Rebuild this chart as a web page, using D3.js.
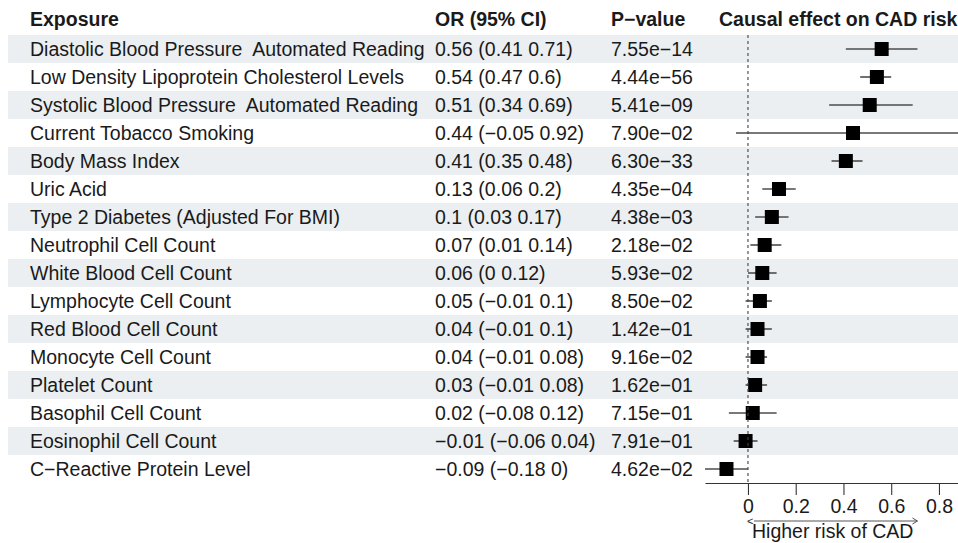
<!DOCTYPE html>
<html>
    <head>
        <script src="https://d3js.org/d3.v7.min.js"></script>
        <style>
            body{ margin:0; background:#fff; }
            text{ font-family:"Liberation Sans", Arial, Helvetica, sans-serif; fill:#1a1a1a; white-space:pre; }
        </style>
    </head>
    <body>
        <svg height="543" width="958" id="chart"></svg>
        <script>
            // data
            const exposures=[
                "Diastolic Blood Pressure  Automated Reading",
                "Low Density Lipoprotein Cholesterol Levels",
                "Systolic Blood Pressure  Automated Reading",
                "Current Tobacco Smoking",
                "Body Mass Index",
                "Uric Acid",
                "Type 2 Diabetes (Adjusted For BMI)",
                "Neutrophil Cell Count",
                "White Blood Cell Count",
                "Lymphocyte Cell Count",
                "Red Blood Cell Count",
                "Monocyte Cell Count",
                "Platelet Count",
                "Basophil Cell Count",
                "Eosinophil Cell Count",
                "C\u2212Reactive Protein Level"
            ];
            const estimates=[0.56,0.54,0.51,0.44,0.41,0.13,0.1,0.07,0.06,0.05,0.04,0.04,0.03,0.02,-0.01,-0.09];
            const lower=[0.41,0.47,0.34,-0.05,0.35,0.06,0.03,0.01,0,-0.01,-0.01,-0.01,-0.01,-0.08,-0.06,-0.18];
            const upper=[0.71,0.6,0.69,0.92,0.48,0.2,0.17,0.14,0.12,0.1,0.1,0.08,0.08,0.12,0.04,0];
            const pvalues=["7.55e\u221214","4.44e\u221256","5.41e\u221209","7.90e\u221202","6.30e\u221233","4.35e\u221204",
                "4.38e\u221203","2.18e\u221202","5.93e\u221202","8.50e\u221202","1.42e\u221201","9.16e\u221202",
                "1.62e\u221201","7.15e\u221201","7.91e\u221201","4.62e\u221202"];
            const xTicks=[0,0.2,0.4,0.6,0.8];
            const headers=["Exposure","OR (95% CI)","P\u2212value","Causal effect on CAD risk"];
            const arrowEnd=0.71;

            let svg=d3.select("#chart");
            const fs=19.5;
            const minus=v=>String(v).replace("-","\u2212");

            let y=d3.scaleBand().domain(d3.range(exposures.length)).range([35,483]);
            let x=d3.scaleLinear().domain([-0.18,0.92]).range([705,967.6]);
            const colX=[30,435,611,719];

            // zebra bands
            svg.append("g").selectAll("rect").data(exposures.map((d,i)=>i).filter(i=>i%2==0))
                .join("rect")
                .attr("x",8).attr("width",950)
                .attr("y",i=>y(i)).attr("height",y.bandwidth())
                .style("fill","#ebeff1");

            // headers
            svg.append("g").selectAll("text").data(headers)
                .join("text")
                .attr("x",(d,i)=>colX[i]).attr("y",26)
                .style("font-size",fs+"px").style("font-weight","bold")
                .text(d=>d);

            let rows=svg.append("g").selectAll("g").data(exposures)
                .join("g")
                .attr("transform",(d,i)=>`translate(0,${y(i)+y.bandwidth()/2})`);
            rows.append("text").attr("x",colX[0]).attr("dy","0.36em")
                .style("font-size",fs+"px").text(d=>d);
            rows.append("text").attr("x",colX[1]).attr("dy","0.36em")
                .style("font-size",fs+"px")
                .text((d,i)=>`${minus(estimates[i])} (${minus(lower[i])} ${minus(upper[i])})`);
            rows.append("text").attr("x",colX[2]).attr("dy","0.36em")
                .style("font-size",fs+"px").text((d,i)=>pvalues[i]);

            // zero line
            svg.append("line")
                .attr("x1",x(0)).attr("x2",x(0))
                .attr("y1",35).attr("y2",483)
                .style("stroke","#444").style("stroke-width",1.1)
                .style("stroke-dasharray","3,3");

            // CIs and points
            rows.append("line")
                .attr("x1",(d,i)=>x(lower[i])).attr("x2",(d,i)=>x(upper[i]))
                .style("stroke","#4d4d4d").style("stroke-width",1.6);
            rows.append("rect")
                .attr("x",(d,i)=>x(estimates[i])-7).attr("y",-7)
                .attr("width",14).attr("height",14)
                .style("fill","#000");

            // axis
            let axis=svg.append("g").attr("transform","translate(0,483)")
                .call(d3.axisBottom(x).tickValues(xTicks).tickFormat(d=>d).tickSize(12).tickSizeOuter(0));
            axis.select(".domain").style("stroke","#333").style("stroke-width",1.1);
            axis.selectAll(".tick line").style("stroke","#333").style("stroke-width",1.1);
            axis.selectAll(".tick text").attr("y",16).attr("dy","0.71em")
                .style("font-size",fs+"px").style("font-family","'Liberation Sans', Arial, sans-serif").style("fill","#1a1a1a");

            // direction arrow
            svg.append("text").attr("x",x(0)-1).attr("y",525)
                .style("font-size","11px").text("<");
            svg.append("line")
                .attr("x1",x(0)+6).attr("x2",x(arrowEnd))
                .attr("y1",521).attr("y2",521)
                .style("stroke","#555").style("stroke-width",1);
            svg.append("path")
                .attr("d",`M${x(arrowEnd)-5},518L${x(arrowEnd)},521L${x(arrowEnd)-5},524`)
                .style("fill","none").style("stroke","#555").style("stroke-width",1);
            svg.append("text").attr("x",(x(0)+x(arrowEnd))/2).attr("y",538)
                .attr("text-anchor","middle")
                .style("font-size",fs+"px").text("Higher risk of CAD");
        </script>
    </body>
</html>
